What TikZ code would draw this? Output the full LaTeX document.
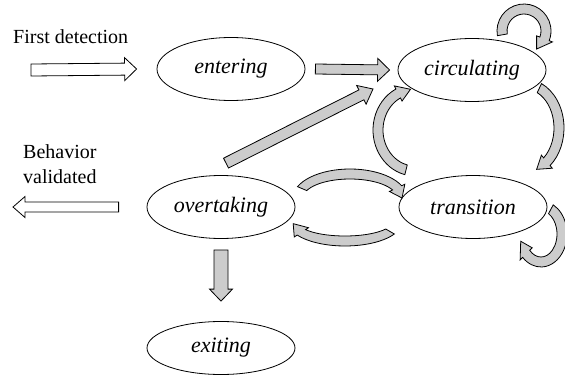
\documentclass[tikz,border=0pt]{standalone}
\usepackage{fontspec}
\setmainfont{Liberation Serif}
\usetikzlibrary{shapes.geometric,calc}

% straight block arrow: style, tail, tip, shaft half width, head half width, head length
\newcommand\blockarrow[6]{%
  \path (#2) coordinate (ba-t) (#3) coordinate (ba-p);
  \path ($(ba-p)!#6!(ba-t)$) coordinate (ba-h);
  \draw[#1] ($(ba-t)!#4!90:(ba-p)$) -- ($(ba-h)!#4!-90:(ba-t)$)
    -- ($(ba-h)!#5!-90:(ba-t)$) -- (ba-p) -- ($(ba-h)!#5!90:(ba-t)$)
    -- ($(ba-h)!#4!90:(ba-t)$) -- ($(ba-t)!#4!-90:(ba-p)$) -- cycle;
}

% curved block arrow along an elliptic arc:
% centre, x radius, y radius, tail angle, tip angle, angular length of the head
\newcommand\bendarrow[6]{%
  \pgfmathsetmacro\bao{#5+#6}%
  \pgfmathsetmacro\rxo{#2+5}\pgfmathsetmacro\ryo{#3+5}%
  \pgfmathsetmacro\rxi{#2-5}\pgfmathsetmacro\ryi{#3-5}%
  \pgfmathsetmacro\rxh{#2+8.5}\pgfmathsetmacro\ryh{#3+8.5}%
  \pgfmathsetmacro\rxk{#2-8.5}\pgfmathsetmacro\ryk{#3-8.5}%
  \draw[grayarrow] ($(#1)+(#4:\rxo pt and \ryo pt)$)
    arc[start angle=#4,end angle=\bao,x radius=\rxo pt,y radius=\ryo pt]
    -- ($(#1)+(\bao:\rxh pt and \ryh pt)$)
    -- ($(#1)+(#5:#2pt and #3pt)$)
    -- ($(#1)+(\bao:\rxk pt and \ryk pt)$)
    -- ($(#1)+(\bao:\rxi pt and \ryi pt)$)
    arc[start angle=\bao,end angle=#4,x radius=\rxi pt,y radius=\ryi pt]
    -- cycle;
}

\tikzset{
  state/.style={draw, line width=0.8pt, ellipse, inner sep=0pt,
    minimum width=148pt, minimum height=63pt, font=\fontsize{22}{26}\selectfont\itshape},
  grayarrow/.style={draw=black, line width=0.8pt, fill=black!20},
  hollowarrow/.style={draw=black, line width=0.8pt, fill=white},
  caption/.style={font=\fontsize{20}{25}\selectfont, inner sep=0pt}
}

\begin{document}
\begin{tikzpicture}[x=1pt,y=1pt]
\useasboundingbox (0,0) rectangle (565,376);

% states
\node[state] (entering)    at (231,307) {entering};
\node[state] (circulating) at (472,306) {circulating};
\node[state] (transition)  at (473,169) {transition};
\node[state] (overtaking)  at (221,169) {overtaking};
\node[state, minimum height=53pt] (exiting) at (221,28) {exiting};

% outside labels
\node[caption, anchor=base west] (first) at (13,333) {First detection};
\node[caption, anchor=base west, align=left] (valid) at (23,193) {Behavior\\validated};

% free ends of the outside arrows
\coordinate (in-tail) at (31,306);
\coordinate (out-tip) at (13,169);

% straight arrows
\blockarrow{hollowarrow}{in-tail}{$(entering.west)+(-20pt,0)$}{6pt}{11.5pt}{12pt}
\blockarrow{hollowarrow}{$(overtaking.west)+(-28pt,0)$}{out-tip}{5pt}{10.5pt}{12pt}
\blockarrow{grayarrow}{$(entering.east)+(10pt,0)$}{$(circulating.west)+(-8pt,0)$}{5pt}{11.5pt}{12pt}
\blockarrow{grayarrow}{$(overtaking.north)+(5pt,12pt)$}{$(circulating.center)+(-99pt,-19pt)$}{5.5pt}{10.5pt}{13pt}
\blockarrow{grayarrow}{$(overtaking.south)+(0,-11pt)$}{$(exiting.north)+(0,20pt)$}{7pt}{11.5pt}{12pt}

% curved arrows
\coordinate (loopc) at ($(circulating)+(52,39)$);
\coordinate (c2t)   at ($(circulating)+(53,-58)$);
\coordinate (t2c)   at ($(transition)+(-58,77)$);
\coordinate (o2t)   at ($(overtaking)+(129,9)$);
\coordinate (t2o)   at ($(overtaking)+(124,-15)$);
\coordinate (loopt) at ($(transition)+(68,-27)$);

\bendarrow{loopc}{22}{22}{190}{-55}{34}
\bendarrow{c2t}{34}{44}{65}{-70}{20}
\bendarrow{t2c}{37}{41}{256}{97}{20}
\bendarrow{o2t}{52}{24}{157}{0}{25}
\bendarrow{t2o}{52}{19}{-30}{-175}{28}
\bendarrow{loopt}{21}{28}{62}{-165}{30}
\end{tikzpicture}
\end{document}
